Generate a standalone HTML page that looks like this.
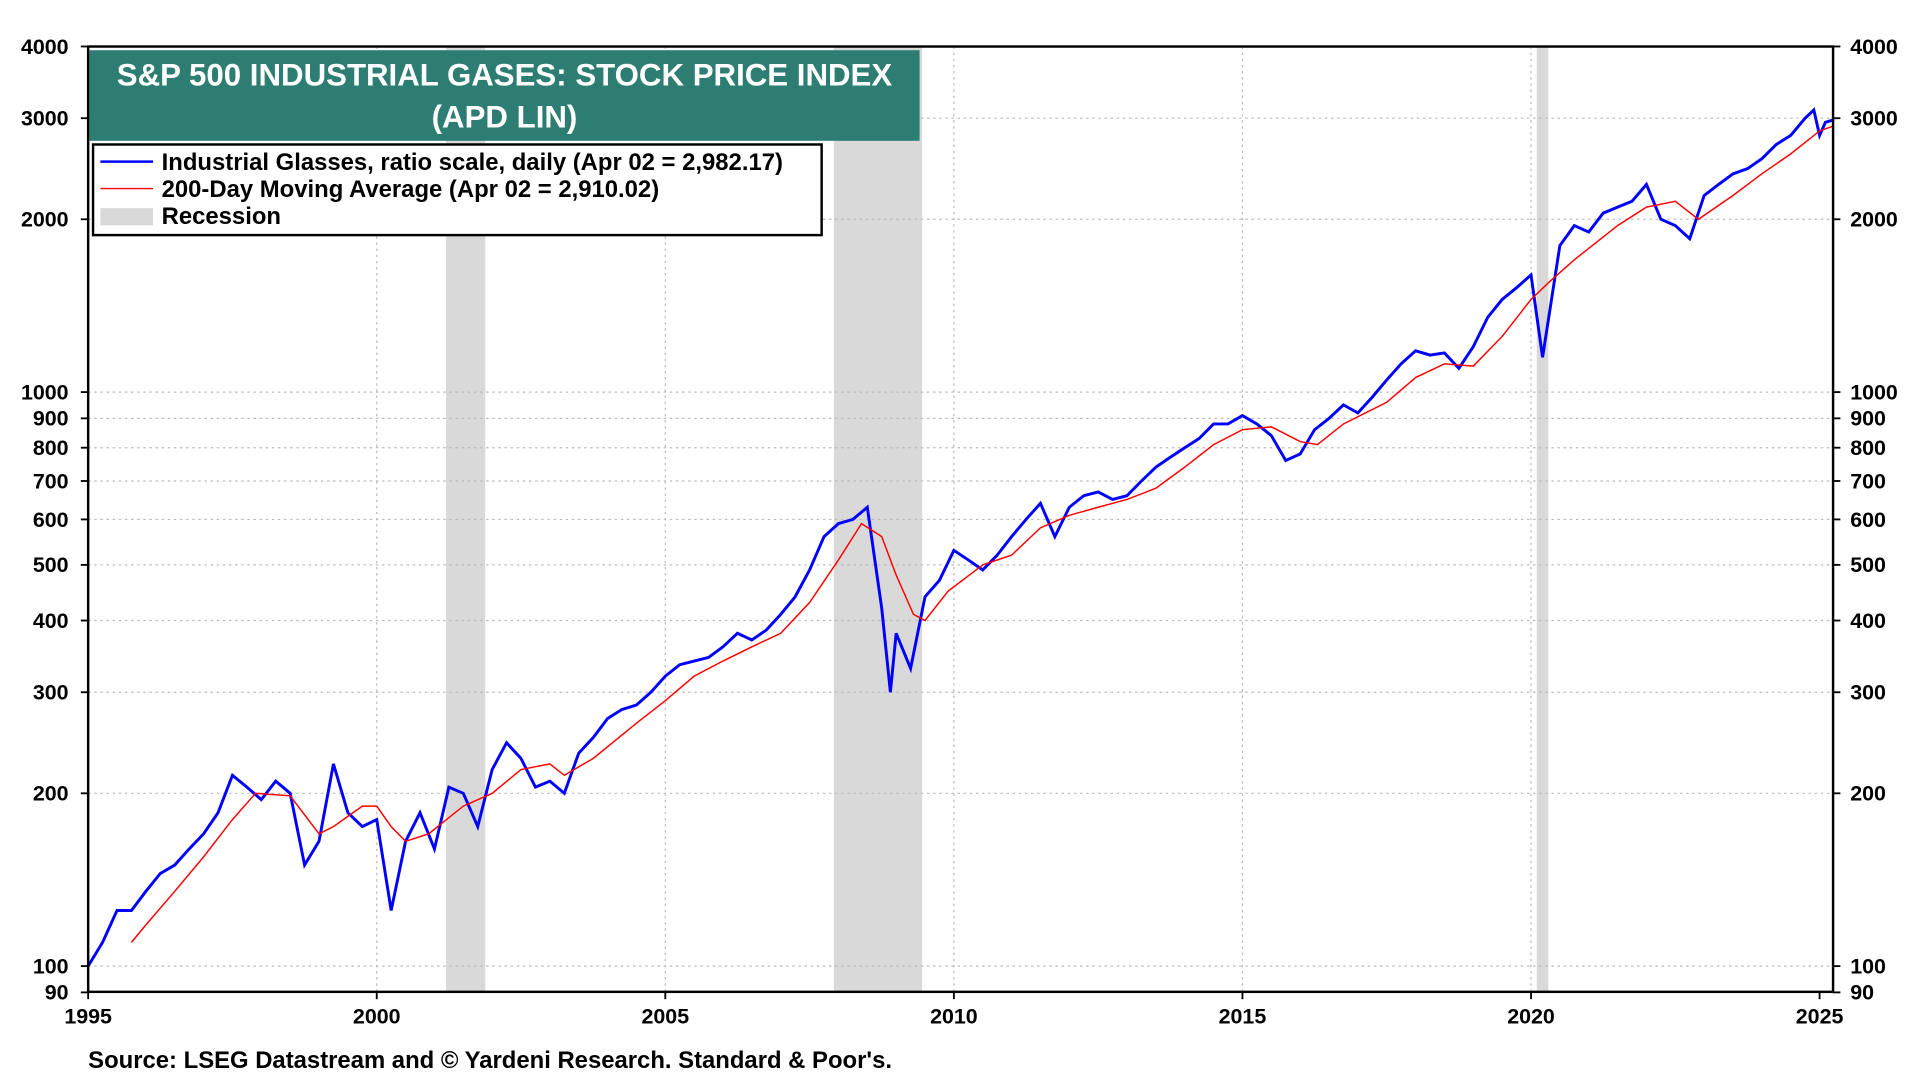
<!DOCTYPE html>
<html><head><meta charset="utf-8"><style>
html,body{margin:0;padding:0;background:#fff;width:1920px;height:1080px;overflow:hidden}
svg{display:block;font-family:"Liberation Sans",Arial,sans-serif}
</style></head><body>
<svg id="chart" width="1920" height="1080" viewBox="0 0 1568 882" xmlns="http://www.w3.org/2000/svg"></svg>
<script>
const years=[1995.0,1995.25,1995.5,1995.75,1996.0,1996.25,1996.5,1996.75,1997.0,1997.25,1997.5,1997.75,1998.0,1998.25,1998.5,1998.75,1999.0,1999.25,1999.5,1999.75,2000.0,2000.25,2000.5,2000.75,2001.0,2001.25,2001.5,2001.75,2002.0,2002.25,2002.5,2002.75,2003.0,2003.25,2003.5,2003.75,2004.0,2004.25,2004.5,2004.75,2005.0,2005.25,2005.5,2005.75,2006.0,2006.25,2006.5,2006.75,2007.0,2007.25,2007.5,2007.75,2008.0,2008.25,2008.5,2008.75,2008.9,2009.0,2009.25,2009.5,2009.75,2010.0,2010.25,2010.5,2010.75,2011.0,2011.25,2011.5,2011.75,2012.0,2012.25,2012.5,2012.75,2013.0,2013.25,2013.5,2013.75,2014.0,2014.25,2014.5,2014.75,2015.0,2015.25,2015.5,2015.75,2016.0,2016.25,2016.5,2016.75,2017.0,2017.25,2017.5,2017.75,2018.0,2018.25,2018.5,2018.75,2019.0,2019.25,2019.5,2019.75,2020.0,2020.2,2020.5,2020.75,2021.0,2021.25,2021.5,2021.75,2022.0,2022.25,2022.5,2022.75,2023.0,2023.25,2023.5,2023.75,2024.0,2024.25,2024.5,2024.75,2024.9,2025.0,2025.1,2025.25];
const prices=[100,110,125,125,135,145,150,160,170,185,215,205,195,210,200,150,165,225,185,175,180,125,165,185,160,205,200,175,220,245,230,205,210,200,235,250,270,280,285,300,320,335,340,345,360,380,370,385,410,440,490,560,590,600,630,420,300,380,330,440,470,530,510,490,520,560,600,640,560,630,660,670,650,660,700,740,770,800,830,880,880,910,880,840,760,780,860,900,950,920,980,1050,1120,1180,1160,1170,1100,1200,1350,1450,1520,1600,1150,1800,1950,1900,2050,2100,2150,2300,2000,1950,1850,2200,2300,2400,2450,2550,2700,2800,3000,3100,2800,2950,2982];
const maYears=[1995.75,1996,1996.5,1997,1997.5,1997.9,1998.5,1999.0,1999.25,1999.75,2000.0,2000.25,2000.5,2000.9,2001.5,2002.0,2002.5,2003.0,2003.25,2003.75,2004.5,2005.0,2005.5,2006.0,2006.5,2007.0,2007.5,2008.0,2008.4,2008.75,2009.0,2009.3,2009.5,2009.9,2010.5,2011.0,2011.5,2012.0,2012.5,2013.0,2013.5,2014.0,2014.5,2015.0,2015.5,2016.0,2016.3,2016.75,2017.5,2018.0,2018.5,2019.0,2019.5,2020.0,2020.3,2020.75,2021.5,2022.0,2022.5,2022.9,2023.5,2024.0,2024.5,2025.0,2025.25];
const maValues=[110,118,135,155,180,200,198,170,175,190,190,175,165,170,190,200,220,225,215,230,265,290,320,340,360,380,430,510,590,560,480,410,400,450,500,520,580,610,630,650,680,740,810,860,870,820,810,880,960,1060,1120,1110,1250,1450,1550,1700,1950,2100,2150,2000,2200,2400,2600,2850,2910];
const recessions=[[2001.2,2001.88],[2007.92,2009.45],[2020.1,2020.3]];
const yTicks=[90,100,200,300,400,500,600,700,800,900,1000,2000,3000,4000];
const xTicks=[1995,2000,2005,2010,2015,2020,2025];

const L=72,R=1497,T=38,B=810;
const X=y=>L+(y-1995)*(1486-72)/30;
const Y=v=>789-Math.log10(v/100)*468.8;
const svg=document.getElementById('chart');
const NS='http://www.w3.org/2000/svg';
function mk(tag,attrs,parent){const e=document.createElementNS(NS,tag);for(const k in attrs)e.setAttribute(k,attrs[k]);(parent||svg).appendChild(e);return e;}

recessions.forEach(r=>{const e=mk('rect',{x:X(r[0]),y:T,width:X(r[1])-X(r[0]),height:B-T,fill:'#d9d9d9'});

});
yTicks.forEach(v=>{const y=Y(v);
mk('line',{x1:L,x2:R,y1:y,y2:y,stroke:'#bbb','stroke-dasharray':'2,3','stroke-width':1});
mk('line',{x1:L-6,x2:L,y1:y,y2:y,stroke:'#000','stroke-width':1.5});
mk('line',{x1:R,x2:R+6,y1:y,y2:y,stroke:'#000','stroke-width':1.5});
const a=mk('text',{x:L-16,y:y+6,'text-anchor':'end','font-size':17.5,'font-weight':'bold'});a.textContent=v;


const b=mk('text',{x:R+14,y:y+6,'font-size':17.5,'font-weight':'bold'});b.textContent=v;

});
xTicks.forEach(t=>{const x=X(t);
if(t>1995&&t<2025)mk('line',{x1:x,x2:x,y1:T,y2:B,stroke:'#bbb','stroke-dasharray':'2,3'});
mk('line',{x1:x,x2:x,y1:B,y2:B+6,stroke:'#000','stroke-width':1.5});
const a=mk('text',{x:x,y:B+26,'text-anchor':'middle','font-size':17.5,'font-weight':'bold'});a.textContent=t;

});

const p=mk('polyline',{points:years.map((y,i)=>X(y)+','+Y(prices[i])).join(' '),fill:'none',stroke:'#0000ff','stroke-width':2.4});


const m=mk('polyline',{points:maYears.map((y,i)=>X(y)+','+Y(maValues[i])).join(' '),fill:'none',stroke:'#ff0000','stroke-width':1.2});



const f=mk('rect',{x:L,y:T,width:R-L,height:B-T,fill:'none',stroke:'#000','stroke-width':2});



const tb=mk('rect',{x:73,y:41,width:678,height:74,fill:'#2e7d72'});


const t1=mk('text',{x:412,y:70,'text-anchor':'middle','font-size':25.5,'font-weight':'bold',fill:'#fff'});t1.textContent='S&P 500 INDUSTRIAL GASES: STOCK PRICE INDEX';


const t2=mk('text',{x:412,y:104,'text-anchor':'middle','font-size':25.5,'font-weight':'bold',fill:'#fff'});t2.textContent='(APD LIN)';



const lg=mk('rect',{x:76,y:118,width:595,height:74,fill:'#fff',stroke:'#000','stroke-width':2});


mk('line',{x1:82,x2:125,y1:132,y2:132,stroke:'#0000ff','stroke-width':2});
mk('line',{x1:82,x2:125,y1:154,y2:154,stroke:'#ff0000','stroke-width':1.2});
mk('rect',{x:82,y:170,width:43,height:14,fill:'#d9d9d9'});
[['Industrial Glasses, ratio scale, daily (Apr 02 = 2,982.17)',139],['200-Day Moving Average (Apr 02 = 2,910.02)',161],['Recession',183]].forEach(d=>{
const e=mk('text',{x:132,y:d[1],'font-size':19.5,'font-weight':'bold'});e.textContent=d[0];

});

const s=mk('text',{x:72,y:872,'font-size':19.5,'font-weight':'bold'});s.textContent="Source: LSEG Datastream and © Yardeni Research. Standard & Poor's.";


</script>
</body></html>
